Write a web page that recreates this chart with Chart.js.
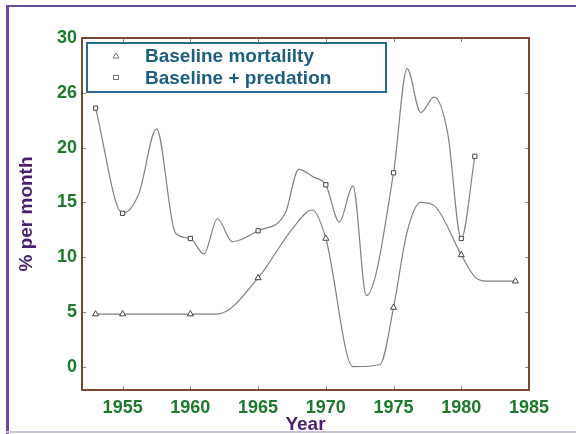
<!DOCTYPE html>
<html>
<head>
<meta charset="utf-8">
<script src="https://cdn.jsdelivr.net/npm/chart.js@4"></script>
<style>
  html, body { margin: 0; padding: 0; background: #fff; }
  #wrap { width: 576px; height: 434px; position: relative; }
</style>
</head>
<body>
<div id="wrap"><canvas id="chart" width="576" height="434"></canvas></div>
<script>
// Baseline mortality curve (points along the drawn curve, markers at survey years)
const basYears  = [1953, 1955, 1960, 1962, 1965, 1967.6, 1969, 1970, 1972, 1974, 1975, 1976, 1977, 1978, 1980, 1981, 1982, 1984];
const basValues = [4.8, 4.8, 4.8, 4.8, 8.1, 12.7, 14.3, 11.7, 0, 0.2, 5.4, 12.3, 15.0, 14.7, 10.2, 8.2, 7.8, 7.8];
const basMarkerYears = [1953, 1955, 1960, 1965, 1970, 1975, 1980, 1984];

// Baseline + predation curve
const predYears  = [1953, 1955, 1956.2, 1957.5, 1958.9, 1960, 1961, 1962, 1963.1, 1965, 1967, 1968, 1969.1, 1970, 1971, 1972, 1973, 1975, 1976, 1977, 1978, 1979, 1980, 1981];
const predValues = [23.6, 14.0, 15.8, 21.7, 12.2, 11.7, 10.3, 13.5, 11.4, 12.4, 14.0, 18.0, 17.3, 16.6, 13.2, 16.5, 6.5, 17.7, 27.2, 23.2, 24.6, 21.3, 11.7, 19.2];
const predMarkerYears = [1953, 1955, 1960, 1965, 1970, 1975, 1980, 1981];

const seriesLabels = ['Baseline mortalilty', 'Baseline + predation'];
const xTickValues = [1955, 1960, 1965, 1970, 1975, 1980, 1985];
const yTickValues = [0, 5, 10, 15, 20, 25, 30];
const yTickLabels = ['0', '5', '10', '15', '20', '26', '30'];

const GREEN = '#1d7a2c';
const PURPLE = '#4a1f6e';
const FRAME = '#7a4a30';
const LEGEND_BLUE = '#1d5f80';

function toPoints(xs, ys) {
    return xs.map((x, i) => ({ x, y: ys[i] }));
}
function markerRadii(xs, marks, r) {
    return xs.map(x => marks.includes(x) ? r : 0);
}

// page frame, plot frame with inward ticks, legend box
const decorPlugin = {
    id: 'decor',
    beforeDraw(chart) {
        const c = chart.ctx;
        c.save();
        c.fillStyle = '#fff';
        c.fillRect(0, 0, chart.width, chart.height);
        c.fillStyle = '#6a4a98';
        c.fillRect(6, 5, chart.width - 6, 2);
        c.fillRect(6, 5, 3, chart.height - 5);
        c.fillStyle = '#cdbfe0';
        c.fillRect(6, 431, chart.width - 6, 2);
        c.restore();
    },
    afterDatasetsDraw(chart) {
        const c = chart.ctx;
        const a = chart.chartArea;
        const xs = chart.scales.x, ys = chart.scales.y;
        c.save();
        c.strokeStyle = '#888';
        c.lineWidth = 1;
        c.beginPath();
        xTickValues.forEach(v => {
            const px = Math.round(xs.getPixelForValue(v)) + 0.5;
            c.moveTo(px, a.bottom); c.lineTo(px, a.bottom - 4);
            c.moveTo(px, a.top); c.lineTo(px, a.top + 4);
        });
        yTickValues.forEach(v => {
            const py = Math.round(ys.getPixelForValue(v)) + 0.5;
            c.moveTo(a.left, py); c.lineTo(a.left + 4, py);
            c.moveTo(a.right, py); c.lineTo(a.right - 4, py);
        });
        c.stroke();
        c.strokeStyle = FRAME;
        c.lineWidth = 2;
        c.strokeRect(a.left, a.top, a.right - a.left, a.bottom - a.top);

        // legend
        c.fillStyle = '#fff';
        c.fillRect(87, 43, 299, 49);
        c.strokeStyle = '#2a6c8c';
        c.lineWidth = 2;
        c.strokeRect(87, 43, 299, 49);
        c.strokeStyle = '#777';
        c.lineWidth = 1;
        c.beginPath();
        c.moveTo(113, 58); c.lineTo(116, 53); c.lineTo(119, 58); c.closePath();
        c.stroke();
        c.strokeRect(113.5, 75.5, 5, 4);
        c.fillStyle = LEGEND_BLUE;
        c.font = 'bold 19px "Liberation Sans", Arial, sans-serif';
        c.textBaseline = 'alphabetic';
        c.fillText(chart.data.datasets[0].label, 145, 62);
        c.fillText(chart.data.datasets[1].label, 145, 84);
        c.restore();
    }
};

new Chart(document.getElementById('chart'), {
    type: 'line',
    data: {
        datasets: [{
            label: seriesLabels[0],
            data: toPoints(basYears, basValues),
            borderColor: '#808080',
            borderWidth: 1.2,
            cubicInterpolationMode: 'monotone',
            pointStyle: 'triangle',
            pointRadius: markerRadii(basYears, basMarkerYears, 3.5),
            pointBackgroundColor: '#fff',
            pointBorderColor: '#444',
            pointBorderWidth: 1
        }, {
            label: seriesLabels[1],
            data: toPoints(predYears, predValues),
            borderColor: '#808080',
            borderWidth: 1.2,
            cubicInterpolationMode: 'monotone',
            pointStyle: 'rect',
            pointRadius: markerRadii(predYears, predMarkerYears, 3),
            pointBackgroundColor: '#fff',
            pointBorderColor: '#444',
            pointBorderWidth: 1
        }]
    },
    options: {
        responsive: false,
        animation: false,
        devicePixelRatio: 1,
        layout: { padding: { top: 38, right: 47, left: 0, bottom: 0 } },
        plugins: { legend: { display: false }, tooltip: { enabled: false } },
        scales: {
            x: {
                type: 'linear',
                min: 1952, max: 1985,
                grid: { display: false, drawTicks: false },
                border: { display: false },
                afterBuildTicks: s => { s.ticks = xTickValues.map(v => ({ value: v })); },
                afterFit: s => { s.height = 44; },
                ticks: {
                    color: GREEN,
                    padding: 7,
                    maxRotation: 0,
                    autoSkip: false,
                    callback: v => String(v),
                    font: { family: '"Liberation Sans", Arial, sans-serif', size: 18, weight: 'bold' }
                },
                title: {
                    display: true,
                    text: 'Year',
                    color: PURPLE,
                    padding: 0,
                    font: { family: '"Liberation Sans", Arial, sans-serif', size: 19, weight: 'bold', lineHeight: 1 }
                }
            },
            y: {
                type: 'linear',
                min: -2.13, max: 30,
                grid: { display: false, drawTicks: false },
                border: { display: false },
                afterBuildTicks: s => { s.ticks = yTickValues.map(v => ({ value: v })); },
                afterFit: s => { s.width = 82; },
                ticks: {
                    color: GREEN,
                    padding: 5,
                    autoSkip: false,
                    callback: (v, i) => yTickLabels[i],
                    font: { family: '"Liberation Sans", Arial, sans-serif', size: 18, weight: 'bold' }
                },
                title: {
                    display: true,
                    text: '% per month',
                    color: PURPLE,
                    padding: { top: 17, bottom: 0 },
                    font: { family: '"Liberation Sans", Arial, sans-serif', size: 19, weight: 'bold', lineHeight: 1 }
                }
            }
        }
    },
    plugins: [decorPlugin]
});
</script>
</body>
</html>
